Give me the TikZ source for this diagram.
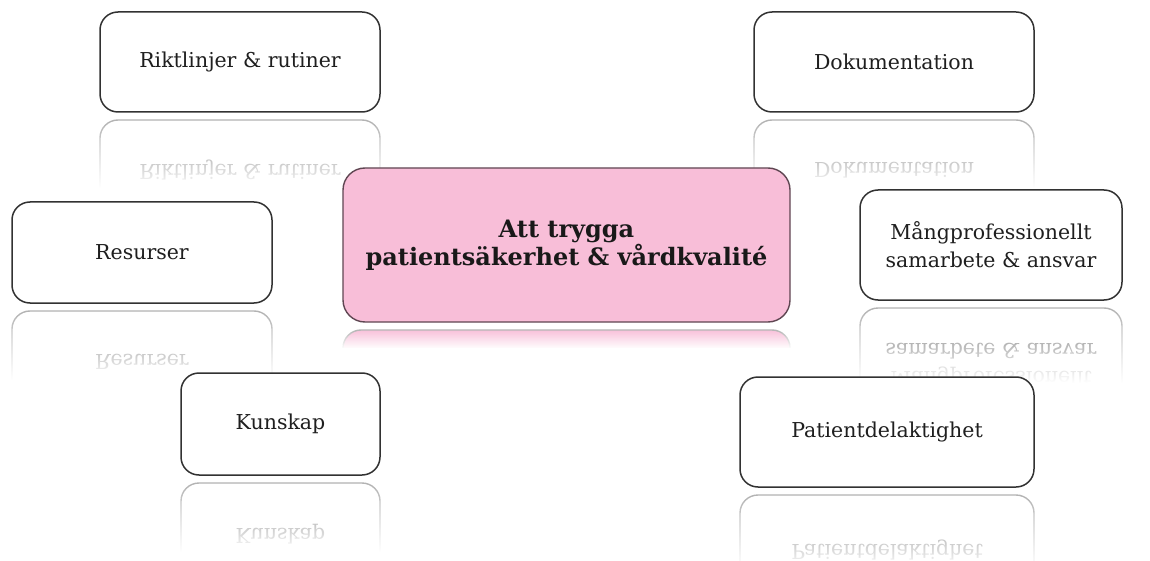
\documentclass[tikz,border=0pt]{standalone}
\usepackage{fontspec}
\usepackage{graphicx}
\setmainfont{DejaVu Serif}
\usetikzlibrary{fadings}
\definecolor{pinkfill}{RGB}{248,190,216}
\definecolor{pinkline}{RGB}{95,70,82}
\definecolor{boxline}{RGB}{50,50,50}
\tikzfading[name=reflfade, top color=transparent!100, bottom color=transparent!0]
\tikzset{
  sbox/.style={draw=boxline, line width=1.5pt, rounded corners=18pt, fill=white,
    align=center, text=black!88, font=\fontsize{20.5}{28}\selectfont, inner sep=0pt},
  mainbox/.style={draw=pinkline, line width=1.4pt, rounded corners=22pt, fill=pinkfill,
    align=center, text=black!90, font=\bfseries\fontsize{24}{28}\selectfont, inner sep=0pt},
  refline/.style={draw=black!30, line width=1.4pt, rounded corners=18pt},
  refltext/.style={text=black!55, font=\fontsize{20.5}{28}\selectfont, inner sep=0pt}
}
% name, cx, box bottom y, w, h, text, fade fraction, fill
\newcommand\mirrorbox[8]{%
  \pgfmathsetmacro\rt{#3+8}%
  \pgfmathsetmacro\rb{#3+8+#5}%
  \pgfmathsetmacro\rl{#2-#4/2}%
  \pgfmathsetmacro\rr{#2+#4/2}%
  \pgfmathsetmacro\rf{#3+8+#7*#5}%
  \pgfmathsetmacro\rm{#3+8+#5/2}%
  \draw[refline, fill=#8] (\rl,\rt) rectangle (\rr,\rb);
  \node[refltext] (#1) at (#2,\rm) {\scalebox{1}[-1]{#6}};
  \fill[white, path fading=reflfade] (\rl-3,\rt-1) rectangle (\rr+3,\rf);
  \fill[white] (\rl-3,\rf) rectangle (\rr+3,\rb+3);
}
\begin{document}
\begin{tikzpicture}[x=1pt,y=-1pt]
\useasboundingbox (0,0) rectangle (1150,561);
% reflections
\mirrorbox{mainR}{566.5}{322}{447}{154}{}{0.12}{pinkfill}
\mirrorbox{rikR}{240}{112}{280}{100}{Riktlinjer \& rutiner}{0.68}{white}
\mirrorbox{dokR}{894}{112}{280}{100}{Dokumentation}{0.68}{white}
\mirrorbox{resR}{142}{303}{260}{101}{Resurser}{0.68}{white}
\mirrorbox{mangR}{991}{300}{262}{110}{\begin{tabular}{@{}c@{}}Mångprofessionellt\\samarbete \& ansvar\end{tabular}}{0.68}{white}
\mirrorbox{kunR}{280.5}{475}{199}{102}{Kunskap}{0.68}{white}
\mirrorbox{patR}{887}{487}{294}{110}{Patientdelaktighet}{0.68}{white}
% boxes
\node[sbox, minimum width=280pt, minimum height=100pt] (rik) at (240,62) {Riktlinjer \& rutiner};
\node[sbox, minimum width=280pt, minimum height=100pt] (dok) at (894,62) {Dokumentation};
\node[sbox, minimum width=260pt, minimum height=101pt] (res) at (142,252.5) {Resurser};
\node[mainbox, minimum width=447pt, minimum height=154pt] (main) at (566.5,245) {Att trygga\\patientsäkerhet \& vårdkvalité};
\node[sbox, minimum width=262pt, minimum height=110pt] (mang) at (991,245) {Mångprofessionellt\\samarbete \& ansvar};
\node[sbox, minimum width=199pt, minimum height=102pt] (kun) at (280.5,424) {Kunskap};
\node[sbox, minimum width=294pt, minimum height=110pt] (pat) at (887,432) {Patientdelaktighet};
\end{tikzpicture}
\end{document}
